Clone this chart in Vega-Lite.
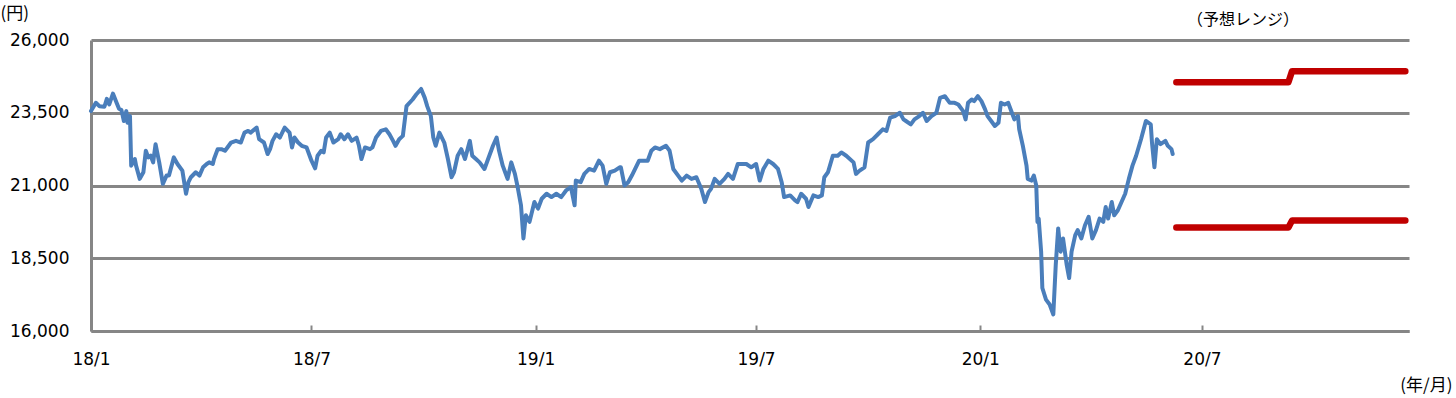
{
  "$schema": "https://vega.github.io/schema/vega-lite/v6.json",
  "width": 1318,
  "height": 291,
  "autosize": {"type": "none"},
  "padding": {"left": 91, "top": 40, "right": 47, "bottom": 67},
  "background": "white",
  "config": {"view": {"stroke": null}, "font": "DejaVu Sans"},
  "title": {"text": "（予想レンジ）", "font": "Noto Sans CJK JP", "fontSize": 16, "fontWeight": "normal", "color": "black", "anchor": "start", "frame": "group", "dx": 1096, "offset": 0, "dy": 32, "baseline": "middle"},
  "datasets": {
    "nikkei": [
      {"d":"2018-01-01","v":23557},{"d":"2018-01-05","v":23841},{"d":"2018-01-08","v":23727},{"d":"2018-01-12","v":23705},
      {"d":"2018-01-14","v":23977},{"d":"2018-01-16","v":23784},{"d":"2018-01-19","v":24159},{"d":"2018-01-22","v":23841},
      {"d":"2018-01-24","v":23636},{"d":"2018-01-26","v":23591},{"d":"2018-01-28","v":23216},{"d":"2018-01-30","v":23557},
      {"d":"2018-01-31","v":23159},{"d":"2018-02-02","v":23386},{"d":"2018-02-03","v":21682},{"d":"2018-02-06","v":21909},
      {"d":"2018-02-07","v":21682},{"d":"2018-02-10","v":21227},{"d":"2018-02-13","v":21455},{"d":"2018-02-15","v":22193},
      {"d":"2018-02-17","v":21966},{"d":"2018-02-19","v":22023},{"d":"2018-02-21","v":21795},{"d":"2018-02-23","v":22420},
      {"d":"2018-02-26","v":21795},{"d":"2018-03-01","v":21057},{"d":"2018-03-04","v":21341},{"d":"2018-03-06","v":21341},
      {"d":"2018-03-10","v":21966},{"d":"2018-03-13","v":21739},{"d":"2018-03-17","v":21511},{"d":"2018-03-20","v":20716},
      {"d":"2018-03-22","v":21114},{"d":"2018-03-24","v":21284},{"d":"2018-03-28","v":21455},{"d":"2018-03-31","v":21341},
      {"d":"2018-04-03","v":21625},{"d":"2018-04-06","v":21739},{"d":"2018-04-08","v":21795},{"d":"2018-04-11","v":21739},
      {"d":"2018-04-12","v":21909},{"d":"2018-04-15","v":22250},{"d":"2018-04-18","v":22250},{"d":"2018-04-21","v":22193},
      {"d":"2018-04-23","v":22307},{"d":"2018-04-26","v":22477},{"d":"2018-04-30","v":22534},{"d":"2018-05-04","v":22477},
      {"d":"2018-05-07","v":22818},{"d":"2018-05-10","v":22875},{"d":"2018-05-12","v":22818},{"d":"2018-05-17","v":22989},
      {"d":"2018-05-19","v":22591},{"d":"2018-05-23","v":22477},{"d":"2018-05-26","v":22080},{"d":"2018-05-28","v":22250},
      {"d":"2018-05-30","v":22534},{"d":"2018-06-02","v":22761},{"d":"2018-06-05","v":22648},{"d":"2018-06-09","v":22989},
      {"d":"2018-06-13","v":22818},{"d":"2018-06-15","v":22307},{"d":"2018-06-17","v":22648},{"d":"2018-06-20","v":22477},
      {"d":"2018-06-23","v":22364},{"d":"2018-06-27","v":22307},{"d":"2018-07-01","v":21852},{"d":"2018-07-04","v":21591},
      {"d":"2018-07-06","v":22023},{"d":"2018-07-09","v":22193},{"d":"2018-07-11","v":22136},{"d":"2018-07-13","v":22648},
      {"d":"2018-07-16","v":22818},{"d":"2018-07-19","v":22477},{"d":"2018-07-23","v":22591},{"d":"2018-07-25","v":22761},
      {"d":"2018-07-28","v":22591},{"d":"2018-07-31","v":22761},{"d":"2018-08-03","v":22534},{"d":"2018-08-07","v":22648},
      {"d":"2018-08-09","v":22364},{"d":"2018-08-11","v":21909},{"d":"2018-08-14","v":22307},{"d":"2018-08-18","v":22250},
      {"d":"2018-08-20","v":22307},{"d":"2018-08-23","v":22648},{"d":"2018-08-27","v":22875},{"d":"2018-08-31","v":22932},
      {"d":"2018-09-03","v":22761},{"d":"2018-09-06","v":22534},{"d":"2018-09-08","v":22364},{"d":"2018-09-11","v":22591},
      {"d":"2018-09-14","v":22705},{"d":"2018-09-17","v":23727},{"d":"2018-09-22","v":23955},{"d":"2018-09-25","v":24125},
      {"d":"2018-09-29","v":24318},{"d":"2018-10-02","v":24011},{"d":"2018-10-04","v":23727},{"d":"2018-10-07","v":23386},
      {"d":"2018-10-09","v":22648},{"d":"2018-10-11","v":22364},{"d":"2018-10-14","v":22818},{"d":"2018-10-18","v":22477},
      {"d":"2018-10-21","v":21909},{"d":"2018-10-24","v":21284},{"d":"2018-10-26","v":21455},{"d":"2018-10-29","v":22023},
      {"d":"2018-11-01","v":22250},{"d":"2018-11-04","v":21909},{"d":"2018-11-08","v":22534},{"d":"2018-11-10","v":22023},
      {"d":"2018-11-13","v":21909},{"d":"2018-11-16","v":21795},{"d":"2018-11-20","v":21568},{"d":"2018-11-23","v":21909},
      {"d":"2018-11-27","v":22364},{"d":"2018-11-30","v":22648},{"d":"2018-12-02","v":22193},{"d":"2018-12-05","v":21682},
      {"d":"2018-12-07","v":21455},{"d":"2018-12-09","v":21227},{"d":"2018-12-12","v":21795},{"d":"2018-12-15","v":21398},
      {"d":"2018-12-17","v":21000},{"d":"2018-12-20","v":20318},{"d":"2018-12-22","v":19182},{"d":"2018-12-24","v":19977},
      {"d":"2018-12-27","v":19750},{"d":"2018-12-31","v":20432},
      {"d":"2019-01-03","v":20205},{"d":"2019-01-06","v":20545},{"d":"2019-01-10","v":20716},{"d":"2019-01-14","v":20602},
      {"d":"2019-01-18","v":20716},{"d":"2019-01-22","v":20602},{"d":"2019-01-26","v":20830},{"d":"2019-01-30","v":20943},
      {"d":"2019-02-02","v":20318},{"d":"2019-02-03","v":21170},{"d":"2019-02-07","v":21114},{"d":"2019-02-10","v":21398},
      {"d":"2019-02-14","v":21568},{"d":"2019-02-18","v":21511},{"d":"2019-02-22","v":21852},{"d":"2019-02-25","v":21682},
      {"d":"2019-02-28","v":21057},{"d":"2019-03-03","v":21455},{"d":"2019-03-07","v":21511},{"d":"2019-03-11","v":21625},
      {"d":"2019-03-12","v":21625},{"d":"2019-03-15","v":21000},{"d":"2019-03-18","v":21114},{"d":"2019-03-21","v":21341},
      {"d":"2019-03-23","v":21511},{"d":"2019-03-27","v":21852},{"d":"2019-04-03","v":21852},{"d":"2019-04-06","v":22193},
      {"d":"2019-04-09","v":22307},{"d":"2019-04-13","v":22250},{"d":"2019-04-18","v":22364},{"d":"2019-04-21","v":22193},
      {"d":"2019-04-24","v":21568},{"d":"2019-04-28","v":21341},{"d":"2019-05-01","v":21170},{"d":"2019-05-05","v":21341},
      {"d":"2019-05-09","v":21227},{"d":"2019-05-13","v":21284},{"d":"2019-05-17","v":20886},{"d":"2019-05-20","v":20432},
      {"d":"2019-05-23","v":20773},{"d":"2019-05-25","v":20886},{"d":"2019-05-28","v":21227},{"d":"2019-06-01","v":21057},
      {"d":"2019-06-05","v":21227},{"d":"2019-06-08","v":21398},{"d":"2019-06-12","v":21227},{"d":"2019-06-16","v":21739},
      {"d":"2019-06-23","v":21739},{"d":"2019-06-27","v":21625},{"d":"2019-07-01","v":21739},{"d":"2019-07-04","v":21170},
      {"d":"2019-07-07","v":21568},{"d":"2019-07-11","v":21852},{"d":"2019-07-15","v":21739},{"d":"2019-07-19","v":21568},
      {"d":"2019-07-22","v":21114},{"d":"2019-07-24","v":20602},{"d":"2019-07-29","v":20659},{"d":"2019-08-02","v":20489},
      {"d":"2019-08-04","v":20432},{"d":"2019-08-07","v":20716},{"d":"2019-08-11","v":20545},{"d":"2019-08-13","v":20261},
      {"d":"2019-08-17","v":20659},{"d":"2019-08-21","v":20602},{"d":"2019-08-24","v":20659},{"d":"2019-08-26","v":21284},
      {"d":"2019-08-29","v":21455},{"d":"2019-09-02","v":22023},{"d":"2019-09-06","v":22023},{"d":"2019-09-09","v":22136},
      {"d":"2019-09-13","v":22023},{"d":"2019-09-19","v":21795},{"d":"2019-09-21","v":21398},{"d":"2019-09-24","v":21511},
      {"d":"2019-09-28","v":21625},{"d":"2019-10-01","v":22477},{"d":"2019-10-05","v":22591},{"d":"2019-10-09","v":22761},
      {"d":"2019-10-13","v":22932},{"d":"2019-10-16","v":22875},{"d":"2019-10-19","v":23330},{"d":"2019-10-23","v":23386},
      {"d":"2019-10-27","v":23500},{"d":"2019-10-30","v":23273},{"d":"2019-11-01","v":23216},{"d":"2019-11-05","v":23102},
      {"d":"2019-11-08","v":23273},{"d":"2019-11-12","v":23386},{"d":"2019-11-15","v":23500},{"d":"2019-11-18","v":23216},
      {"d":"2019-11-22","v":23386},{"d":"2019-11-26","v":23500},{"d":"2019-11-29","v":24011},{"d":"2019-12-03","v":24068},
      {"d":"2019-12-07","v":23841},{"d":"2019-12-11","v":23841},{"d":"2019-12-14","v":23784},{"d":"2019-12-18","v":23557},
      {"d":"2019-12-20","v":23273},{"d":"2019-12-22","v":23841},{"d":"2019-12-25","v":23955},{"d":"2019-12-27","v":23898},
      {"d":"2019-12-30","v":24068},
      {"d":"2020-01-02","v":23898},{"d":"2020-01-05","v":23614},{"d":"2020-01-07","v":23386},{"d":"2020-01-10","v":23216},
      {"d":"2020-01-13","v":23045},{"d":"2020-01-16","v":23159},{"d":"2020-01-18","v":23841},{"d":"2020-01-21","v":23784},
      {"d":"2020-01-24","v":23841},{"d":"2020-01-27","v":23500},{"d":"2020-01-29","v":23273},{"d":"2020-02-01","v":23386},
      {"d":"2020-02-02","v":22932},{"d":"2020-02-05","v":22364},{"d":"2020-02-08","v":21682},{"d":"2020-02-09","v":21227},
      {"d":"2020-02-12","v":21170},{"d":"2020-02-14","v":21341},{"d":"2020-02-16","v":21000},{"d":"2020-02-17","v":19750},
      {"d":"2020-02-18","v":19864},{"d":"2020-02-20","v":18727},{"d":"2020-02-21","v":17477},{"d":"2020-02-24","v":17080},
      {"d":"2020-02-27","v":16909},{"d":"2020-03-01","v":16568},{"d":"2020-03-03","v":18273},{"d":"2020-03-05","v":19523},
      {"d":"2020-03-07","v":18727},{"d":"2020-03-09","v":19182},{"d":"2020-03-12","v":18273},{"d":"2020-03-14","v":17818},
      {"d":"2020-03-16","v":18727},{"d":"2020-03-19","v":19295},{"d":"2020-03-21","v":19466},{"d":"2020-03-24","v":19182},
      {"d":"2020-03-27","v":19636},{"d":"2020-03-30","v":19920},{"d":"2020-04-02","v":19182},{"d":"2020-04-05","v":19466},
      {"d":"2020-04-08","v":19864},{"d":"2020-04-11","v":19750},{"d":"2020-04-13","v":20261},{"d":"2020-04-15","v":19864},
      {"d":"2020-04-18","v":20432},{"d":"2020-04-20","v":19977},{"d":"2020-04-23","v":20148},{"d":"2020-04-26","v":20432},
      {"d":"2020-04-29","v":20716},{"d":"2020-05-02","v":21227},{"d":"2020-05-05","v":21682},{"d":"2020-05-08","v":22023},
      {"d":"2020-05-12","v":22591},{"d":"2020-05-16","v":23216},{"d":"2020-05-20","v":23102},{"d":"2020-05-21","v":22477},
      {"d":"2020-05-23","v":21625},{"d":"2020-05-25","v":22591},{"d":"2020-05-28","v":22420},{"d":"2020-06-01","v":22534},
      {"d":"2020-06-03","v":22364},{"d":"2020-06-06","v":22250},{"d":"2020-06-07","v":22080}
    ],
    "range": [
      {"band":"upper","d":"2020-06-10","v":24550},{"band":"upper","d":"2020-09-10","v":24550},
      {"band":"upper","d":"2020-09-13","v":24930},{"band":"upper","d":"2020-12-15","v":24930},
      {"band":"lower","d":"2020-06-10","v":19560},{"band":"lower","d":"2020-09-10","v":19560},
      {"band":"lower","d":"2020-09-13","v":19800},{"band":"lower","d":"2020-12-15","v":19800}
    ]
  },
  "encoding": {
    "x": {
      "field": "d", "type": "temporal",
      "scale": {"type": "utc", "domain": [{"year": 2018, "month": 1, "date": 1, "utc": true}, {"year": 2020, "month": 12, "date": 18, "utc": true}]},
      "axis": {
        "values": [
          {"year": 2018, "month": 1, "date": 1, "utc": true}, {"year": 2018, "month": 7, "date": 1, "utc": true},
          {"year": 2019, "month": 1, "date": 1, "utc": true}, {"year": 2019, "month": 7, "date": 1, "utc": true},
          {"year": 2020, "month": 1, "date": 1, "utc": true}, {"year": 2020, "month": 7, "date": 1, "utc": true}
        ],
        "labelExpr": "(utcyear(datum.value) % 100) + '/' + (utcmonth(datum.value) + 1)",
        "grid": false,
        "domainColor": "#868686", "domainWidth": 3,
        "tickColor": "#868686", "tickWidth": 2, "tickSize": -6,
        "labelPadding": 26, "labelFontSize": 17, "labelFont": "DejaVu Sans", "labelColor": "black", "labelFlush": false,
        "title": "(年/月)", "titleX": 1361, "titleY": 54, "titleAlign": "right", "titleBaseline": "middle",
        "titleFont": "Noto Sans CJK JP", "titleFontSize": 17, "titleFontWeight": "normal", "titleColor": "black"
      }
    },
    "y": {
      "field": "v", "type": "quantitative",
      "scale": {"domain": [16000, 26000], "nice": false, "zero": false},
      "axis": {
        "values": [16000, 18500, 21000, 23500, 26000],
        "labelExpr": "floor(datum.value / 1000) + ',' + (datum.value % 1000 == 0 ? '000' : '500')",
        "grid": true, "gridColor": "#868686", "gridWidth": 3,
        "domainColor": "#868686", "domainWidth": 3, "ticks": false,
        "labelPadding": 22, "labelFontSize": 17, "labelFont": "DejaVu Sans", "labelColor": "black",
        "title": "(円)", "titleAngle": 0, "titleX": -91, "titleY": -27, "titleAlign": "left", "titleBaseline": "middle",
        "titleFont": "Noto Sans CJK JP", "titleFontSize": 17, "titleFontWeight": "normal", "titleColor": "black"
      }
    }
  },
  "layer": [
    {
      "data": {"name": "nikkei"},
      "mark": {"type": "line", "color": "#4a7ebb", "strokeWidth": 4, "strokeJoin": "round", "strokeCap": "round"}
    },
    {
      "data": {"name": "range"},
      "mark": {"type": "line", "color": "#c00000", "strokeWidth": 6.5, "strokeJoin": "round", "strokeCap": "round"},
      "encoding": {"detail": {"field": "band"}}
    }
  ]
}
